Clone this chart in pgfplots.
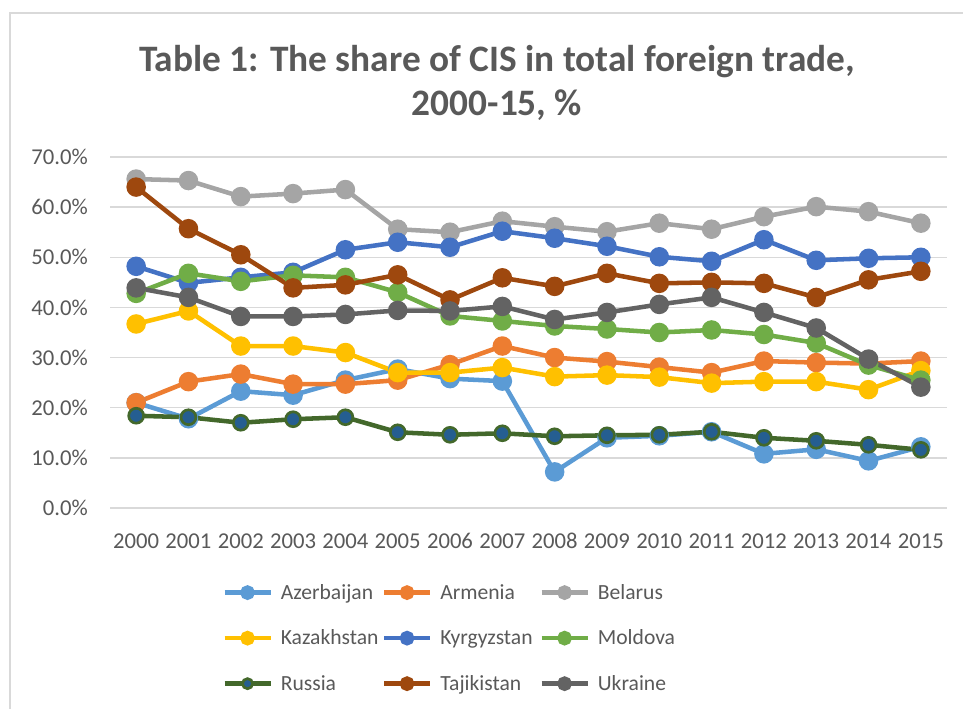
\documentclass[border=0pt]{standalone}
\usepackage{pgfplots}
\usepackage{pgfplotstable}
\pgfplotsset{compat=1.18}
\usepackage{fontspec}
\setmainfont{Carlito}
\definecolor{azer}{HTML}{5B9BD5}
\definecolor{arm}{HTML}{ED7D31}
\definecolor{bel}{HTML}{A5A5A5}
\definecolor{kaz}{HTML}{FFC000}
\definecolor{kyr}{HTML}{4472C4}
\definecolor{mol}{HTML}{70AD47}
\definecolor{rusline}{HTML}{43682B}
\definecolor{rusfill}{HTML}{255E91}
\definecolor{taj}{HTML}{9E480E}
\definecolor{ukr}{HTML}{636363}
\definecolor{txt}{HTML}{595959}
\definecolor{grid}{HTML}{D9D9D9}

\pgfplotstableread{
year Azer Arm Bel Kaz Kyr Mol Rus Taj Ukr
2000 21.0 21.0 65.6 36.7 48.2 42.8 18.4 64.0 43.9
2001 17.8 25.2 65.3 39.3 44.9 46.8 18.1 55.7 42.0
2002 23.3 26.7 62.1 32.3 46.0 45.2 17.0 50.5 38.2
2003 22.5 24.7 62.7 32.3 47.0 46.4 17.7 43.9 38.2
2004 25.5 24.7 63.5 31.0 51.5 46.0 18.1 44.5 38.6
2005 27.7 25.5 55.6 27.0 53.0 43.0 15.1 46.5 39.4
2006 25.8 28.6 55.0 27.0 52.0 38.3 14.6 41.5 39.3
2007 25.3 32.3 57.2 28.0 55.2 37.3 14.9 45.9 40.2
2008 7.2 30.0 56.1 26.2 53.8 36.3 14.3 44.2 37.6
2009 14.0 29.2 55.1 26.5 52.2 35.7 14.5 46.8 39.0
2010 14.4 28.1 56.8 26.1 50.1 35.0 14.6 44.8 40.6
2011 15.2 27.0 55.6 24.9 49.2 35.5 15.2 45.0 42.0
2012 10.8 29.3 58.1 25.2 53.5 34.6 14.0 44.8 39.0
2013 11.7 29.0 60.1 25.2 49.4 32.9 13.4 42.0 35.9
2014 9.4 28.8 59.1 23.6 49.8 28.5 12.6 45.5 29.7
2015 12.2 29.3 56.8 27.4 50.0 25.5 11.6 47.2 24.1
}\datatable

\newcommand{\la}[1]{\makebox[69.75pt][l]{#1}}
\newcommand{\lb}[1]{\makebox[68.25pt][l]{#1}}

\begin{document}
\begin{tikzpicture}[x=0.75pt,y=0.75pt]
\useasboundingbox (0,0) rectangle (963,709);
\draw[color=grid, line width=1.2pt] (10,0) -- (10,696) -- (963,696);
\node[anchor=north, align=center, inner sep=0pt, text=txt,
      font=\bfseries\fontsize{28}{33}\selectfont] at (497,664)
  {Table 1: The share of CIS in total foreign trade,\\2000-15, \%};
\begin{axis}[
  at={(82.5pt,150.75pt)}, anchor=south west,
  scale only axis, width=627.75pt, height=263.25pt,
  xmin=1999.5, xmax=2015.5, ymin=0, ymax=70,
  xtick={2000,...,2015}, ytick={0,10,...,70},
  yticklabels={0.0\%,10.0\%,20.0\%,30.0\%,40.0\%,50.0\%,60.0\%,70.0\%},
  axis line style={draw=none},
  major tick length=0pt,
  ymajorgrids, grid style={color=grid, line width=1pt},
  /pgf/number format/1000 sep={},
  /pgf/number format/assume math mode=true,
  tick label style={font=\fontsize{17}{20}\selectfont, text=txt},
  yticklabel style={anchor=east, inner sep=0pt, xshift=-16.5pt},
  xticklabel style={anchor=north, inner sep=0pt, text height=12pt, text depth=0pt, yshift=-18pt},
  clip=false,
  every axis plot/.append style={line width=3.4pt, mark=*, mark size=5.6pt},
  legend columns=3,
  legend cell align=left,
  legend style={at={(0.1338,-0.2085)}, anchor=north west, draw=none, fill=none,
    inner sep=0pt, font=\fontsize{16.2}{20}\selectfont, text=txt,
    /tikz/column sep=4pt, /tikz/row sep=17.4pt},
  legend image code/.code={\draw[mark repeat=2,mark phase=2,#1,line width=3.4pt,mark size=3.8pt] plot coordinates {(0pt,0pt) (17.25pt,0pt) (34.5pt,0pt)};},
]
\addplot[color=azer, mark options={fill=azer}] table[x=year,y=Azer]{\datatable};
\addlegendentry{\la{Azerbaijan}}
\addplot[color=arm, mark options={fill=arm}] table[x=year,y=Arm]{\datatable};
\addlegendentry{\lb{Armenia}}
\addplot[color=bel, mark options={fill=bel}] table[x=year,y=Bel]{\datatable};
\addlegendentry{Belarus}
\addplot[color=kaz, mark options={fill=kaz}] table[x=year,y=Kaz]{\datatable};
\addlegendentry{\la{Kazakhstan}}
\addplot[color=kyr, mark options={fill=kyr}] table[x=year,y=Kyr]{\datatable};
\addlegendentry{\lb{Kyrgyzstan}}
\addplot[color=mol, mark options={fill=mol}] table[x=year,y=Mol]{\datatable};
\addlegendentry{Moldova}
\addplot[color=rusline, mark options={fill=rusfill, draw=rusline, line width=2pt}] table[x=year,y=Rus]{\datatable};
\addlegendentry{\la{Russia}}
\addplot[color=taj, mark options={fill=taj}] table[x=year,y=Taj]{\datatable};
\addlegendentry{\lb{Tajikistan}}
\addplot[color=ukr, mark options={fill=ukr}] table[x=year,y=Ukr]{\datatable};
\addlegendentry{Ukraine}
\end{axis}
\end{tikzpicture}
\end{document}
